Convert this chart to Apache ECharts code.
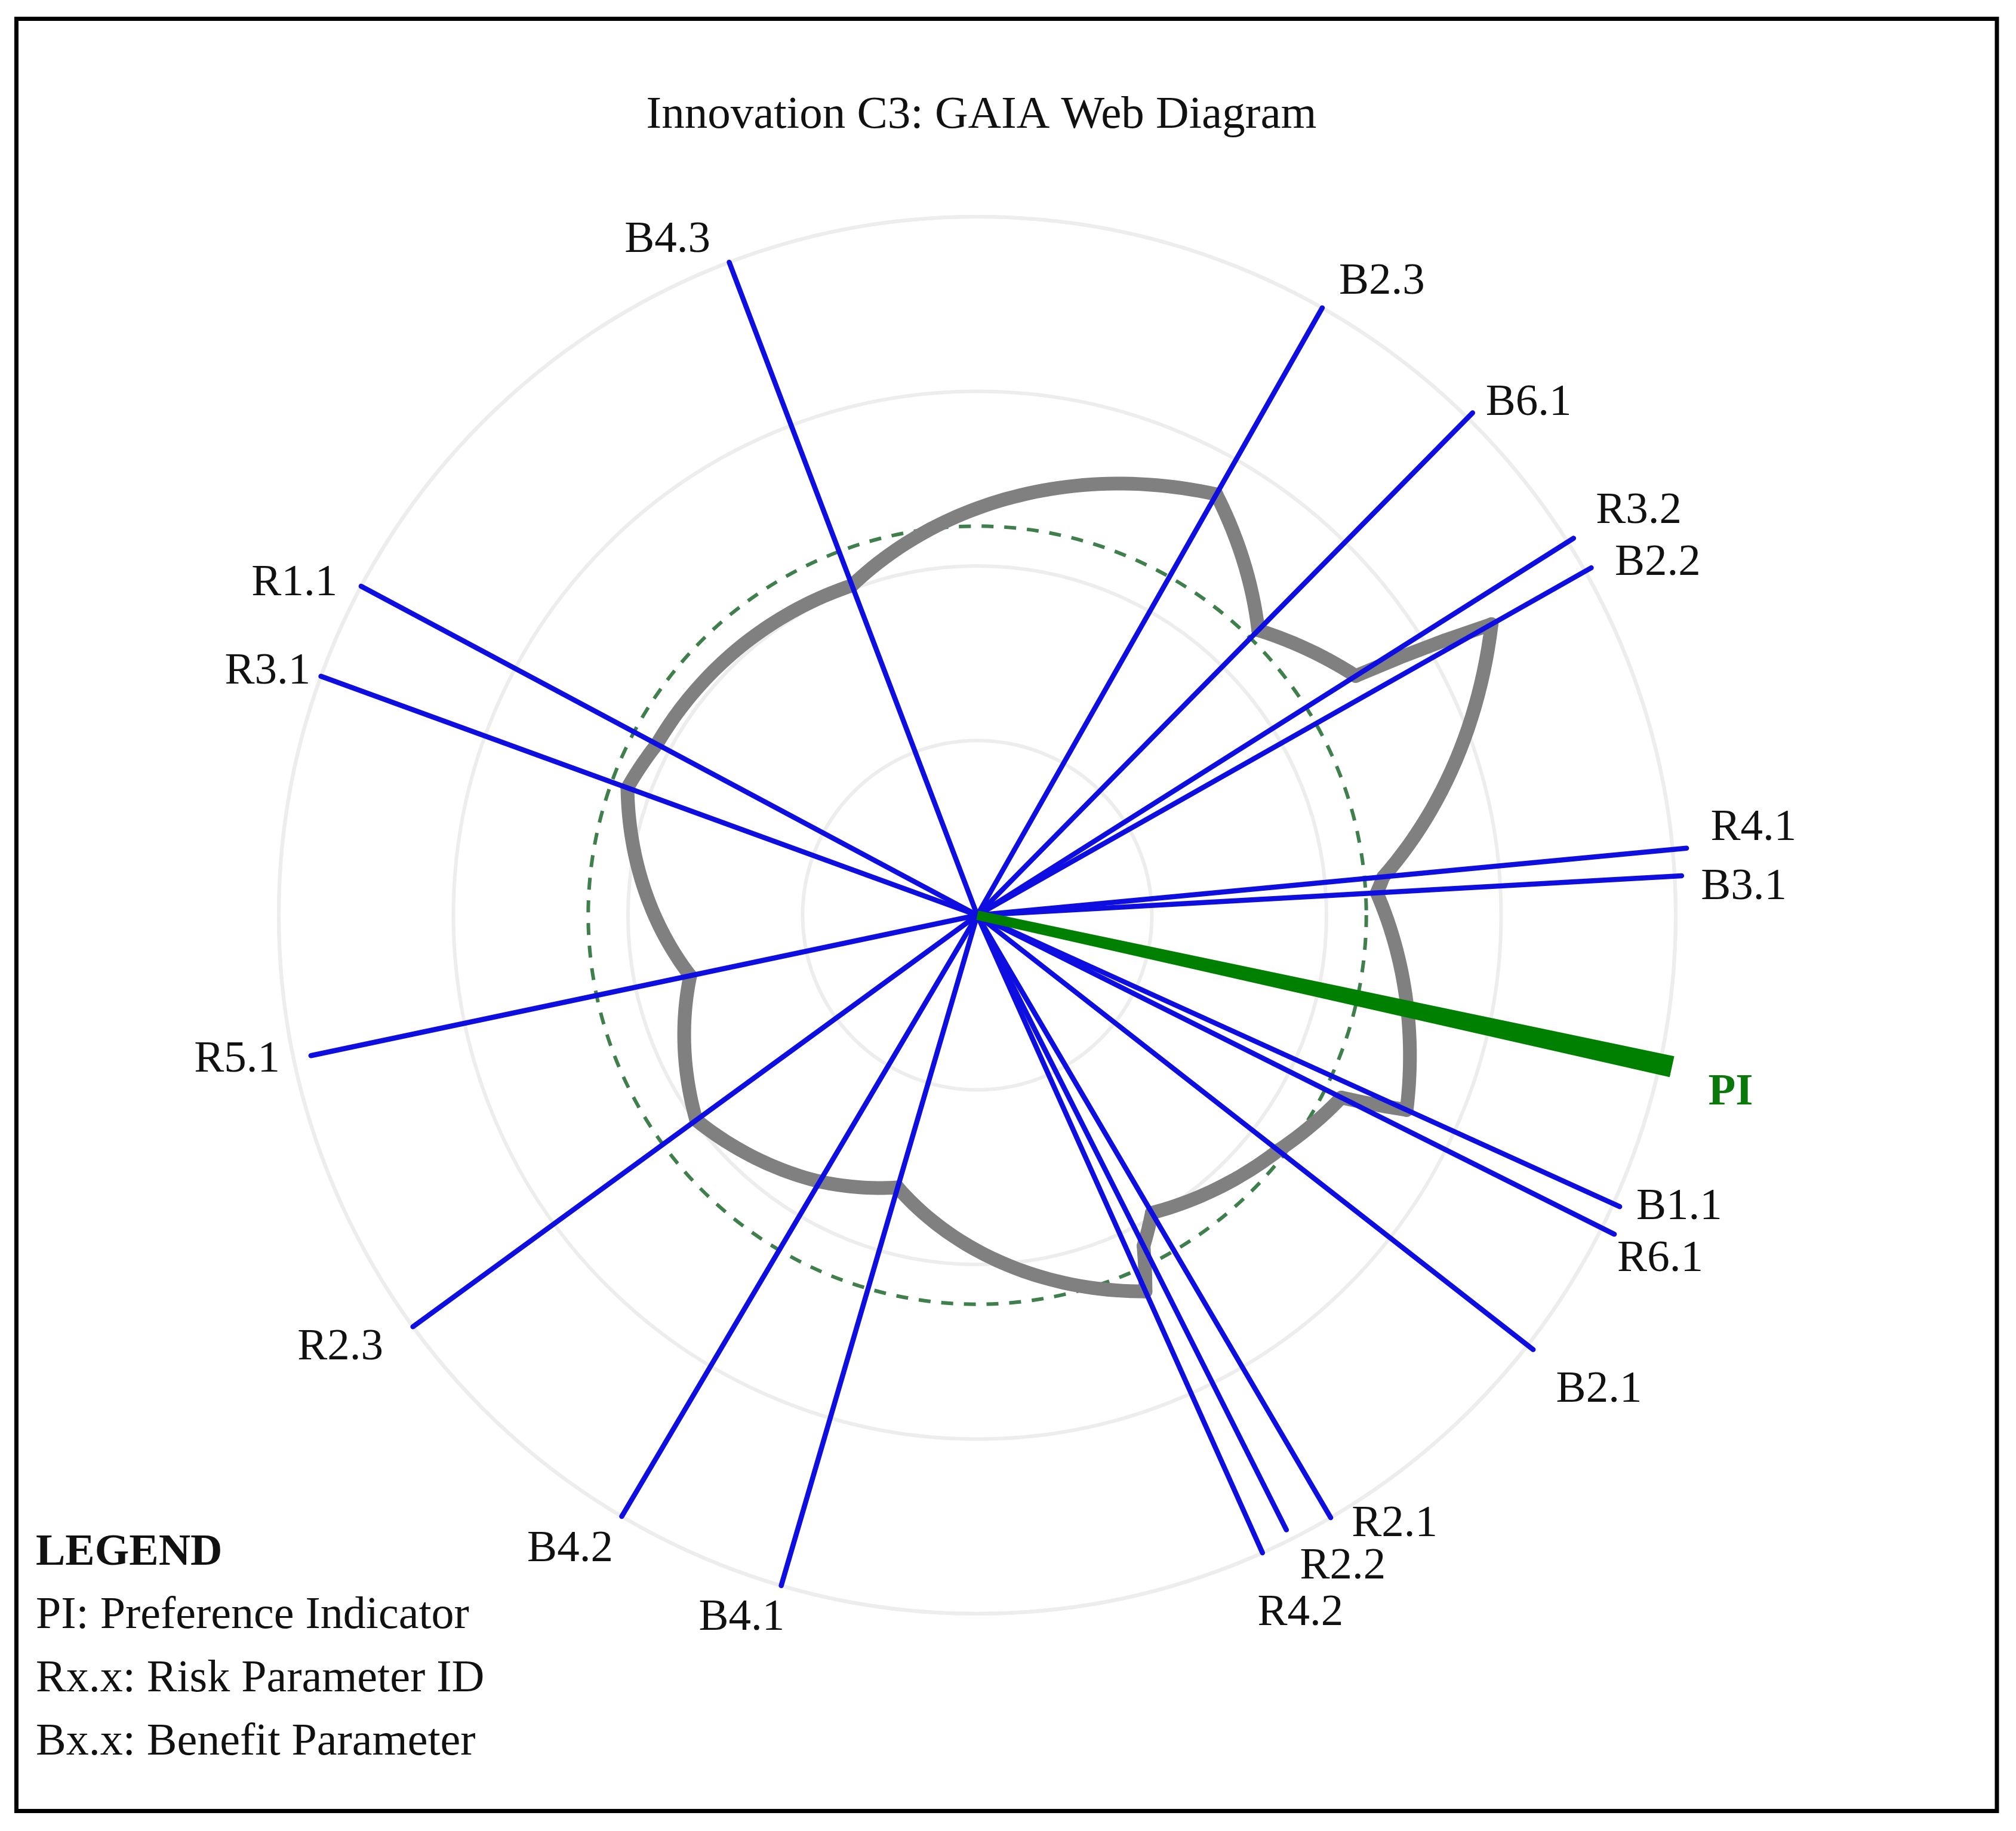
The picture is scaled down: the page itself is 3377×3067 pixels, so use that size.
<!DOCTYPE html>
<html>
<head>
<meta charset="utf-8">
<script src="https://cdn.jsdelivr.net/npm/echarts@6/dist/echarts.min.js"></script>
<style>
html,body{margin:0;padding:0;background:#fff;}
#chart{width:3377px;height:3067px;}
</style>
</head>
<body>
<div id="chart"></div>
<script>
// ---------------- DATA ----------------
// criteria (axes of the GAIA web), ordered by angle (degrees, counter-clockwise from east)
const criteria = ['B3.1','R4.1','B2.2','R3.2','B6.1','B2.3','B4.3','R1.1','R3.1','R5.1','R2.3','B4.2','B4.1','R4.2','R2.2','R2.1','B2.1','R6.1','B1.1'];
const criterionAngles = [3.2, 5.4, 29.5, 32.3, 45.4, 60.4, 110.8, 151.9, 160.0, 191.9, 216.1, 239.4, 253.7, 294.1, 296.7, 300.4, 322.0, 333.4, 335.6];
const criterionLengths = [1.01, 1.02, 1.01, 1.01, 1.01, 1.0, 1.0, 1.0, 1.0, 0.975, 1.0, 1.0, 1.0, 1.0, 0.985, 1.0, 1.01, 1.02, 1.01];
// position of the action's web (grey curve) on each criterion axis
const webValues = [0.573, 0.584, 0.846, 0.641, 0.573, 0.693, 0.505, 0.52, 0.533, 0.42, 0.498, 0.443, 0.406, 0.59, 0.53, 0.494, 0.547, 0.583, 0.675];
// preference indicator
const piName = 'PI';
const piAngle = 347.7;
const piLength = 1.018;
// zero level (dashed green circle)
const zeroLevel = 0.557;
// radial scale
const radialMin = 0, radialMax = 1, radialStep = 0.25;

const titleText = 'Innovation C3: GAIA Web Diagram';
const legendTitle = 'LEGEND';
const legendLines = ['PI: Preference Indicator', 'Rx.x: Risk Parameter ID', 'Bx.x: Benefit Parameter'];

// ---------------- STYLE / LAYOUT ----------------
const FONT = '"Liberation Serif", "DejaVu Serif", serif';
const BLUE = '#0e0ee0';
const GREY = '#808080';
const GREEN = '#008000';
const labelRadius = 1.083;
const labelNudge = {
  'B4.3': [-69, 54], 'B2.3': [52, 41], 'B6.1': [34, 45], 'R3.2': [37, 0], 'B2.2': [37, 34],
  'R1.1': [-26, 41], 'R3.1': [2, 26], 'R4.1': [39, -26], 'B3.1': [19, 24], 'PI': [24, 28],
  'R5.1': [0, -19], 'B1.1': [22, -34], 'R6.1': [11, 9], 'B2.1': [43, 15], 'R2.1': [58, -73],
  'R2.2': [43, -41], 'R4.2': [24, 13], 'B4.1': [-39, -39], 'B4.2': [-37, -28], 'R2.3': [-43, -22]
};

function txt(text, x, y, font, fill, align) {
  return {
    type: 'text',
    style: {
      text: text, x: x, y: y, font: font, fill: fill,
      align: align, verticalAlign: 'middle',
      textAlign: align, textVerticalAlign: 'middle'
    }
  };
}

function renderZero(params, api) {
  const c = api.coord([0, 0]);
  const p = api.coord([api.value(0), 0]);
  const r = Math.hypot(p[0] - c[0], p[1] - c[1]);
  return {
    type: 'circle',
    shape: { cx: c[0], cy: c[1], r: r },
    style: { fill: null, stroke: '#3f7f4c', lineWidth: 6, lineDash: [20, 18] }
  };
}

function renderWeb(params, api) {
  const n = webValues.length;
  const i = params.dataIndex, j = (i + 1) % n;
  let a0 = criterionAngles[i], a1 = criterionAngles[j];
  if (a1 < a0) a1 += 360;
  const r0 = webValues[i], r1 = webValues[j];
  const steps = Math.max(2, Math.ceil(a1 - a0));
  const pts = [];
  for (let k = 0; k <= steps; k++) {
    const t = k / steps;
    pts.push(api.coord([r0 + (r1 - r0) * t, (a0 + (a1 - a0) * t) % 360]));
  }
  return {
    type: 'polyline',
    shape: { points: pts },
    style: { stroke: GREY, lineWidth: 23, fill: null, lineJoin: 'round', lineCap: 'round' }
  };
}

function renderAxis(params, api) {
  const i = params.dataIndex;
  const len = api.value(0), ang = api.value(1);
  const c = api.coord([0, ang]);
  const e = api.coord([len, ang]);
  const lp = api.coord([labelRadius, ang]);
  const nd = labelNudge[criteria[i]] || [0, 0];
  return {
    type: 'group',
    children: [
      { type: 'line', shape: { x1: c[0], y1: c[1], x2: e[0], y2: e[1] },
        style: { stroke: BLUE, lineWidth: 8.5, lineCap: 'round' } },
      txt(criteria[i], lp[0] + nd[0], lp[1] + nd[1], '75px ' + FONT, '#111', 'center')
    ]
  };
}

function renderPI(params, api) {
  const len = api.value(0), ang = api.value(1);
  const c = api.coord([0, ang]);
  const e = api.coord([len, ang]);
  const dx = e[0] - c[0], dy = e[1] - c[1];
  const L = Math.hypot(dx, dy);
  const nx = -dy / L, ny = dx / L;
  const w0 = 8, w1 = 18;
  const lp = api.coord([labelRadius, ang]);
  const nd = labelNudge[piName];
  return {
    type: 'group',
    children: [
      { type: 'polygon',
        shape: { points: [
          [c[0] + nx * w0, c[1] + ny * w0], [e[0] + nx * w1, e[1] + ny * w1],
          [e[0] - nx * w1, e[1] - ny * w1], [c[0] - nx * w0, c[1] - ny * w0]] },
        style: { fill: GREEN, stroke: null } },
      txt(piName, lp[0] + nd[0], lp[1] + nd[1], 'bold 75px ' + FONT, '#0a780a', 'center')
    ]
  };
}

const chart = echarts.init(document.getElementById('chart'), null, { renderer: 'canvas' });

const legendGraphics = [
  txt(legendTitle, 60, 2602, 'bold 74px ' + FONT, '#111', 'left')
].concat(legendLines.map((t, k) => txt(t, 60, 2707 + k * 106, '76px ' + FONT, '#111', 'left')));

chart.setOption({
  backgroundColor: '#ffffff',
  animation: false,
  polar: { center: [1637, 1533], radius: 1170 },
  angleAxis: {
    type: 'value', min: 0, max: 360, startAngle: 0, clockwise: false,
    axisLine: { show: true, lineStyle: { color: '#ededed', width: 6 } },
    axisTick: { show: false }, axisLabel: { show: false }, splitLine: { show: false }
  },
  radiusAxis: {
    type: 'value', min: radialMin, max: radialMax, interval: radialStep,
    axisLine: { show: false }, axisTick: { show: false }, axisLabel: { show: false },
    splitLine: { show: true, lineStyle: { color: '#ededed', width: 6 } }
  },
  graphic: [
    { type: 'rect', shape: { x: 27.5, y: 31.5, width: 3317.5, height: 3002 },
      style: { fill: null, stroke: '#000', lineWidth: 7 }, silent: true },
    txt(titleText, 1644, 194, '77px ' + FONT, '#111', 'center')
  ].concat(legendGraphics),
  series: [
    { type: 'custom', coordinateSystem: 'polar', z: 2, renderItem: renderZero,
      data: [[zeroLevel, 0]] },
    { type: 'custom', coordinateSystem: 'polar', z: 3, renderItem: renderWeb,
      data: webValues.map((v, i) => [v, criterionAngles[i]]) },
    { type: 'custom', coordinateSystem: 'polar', z: 4, renderItem: renderAxis,
      data: criterionLengths.map((l, i) => [l, criterionAngles[i]]) },
    { type: 'custom', coordinateSystem: 'polar', z: 5, renderItem: renderPI,
      data: [[piLength, piAngle]] }
  ]
});
</script>
</body>
</html>
